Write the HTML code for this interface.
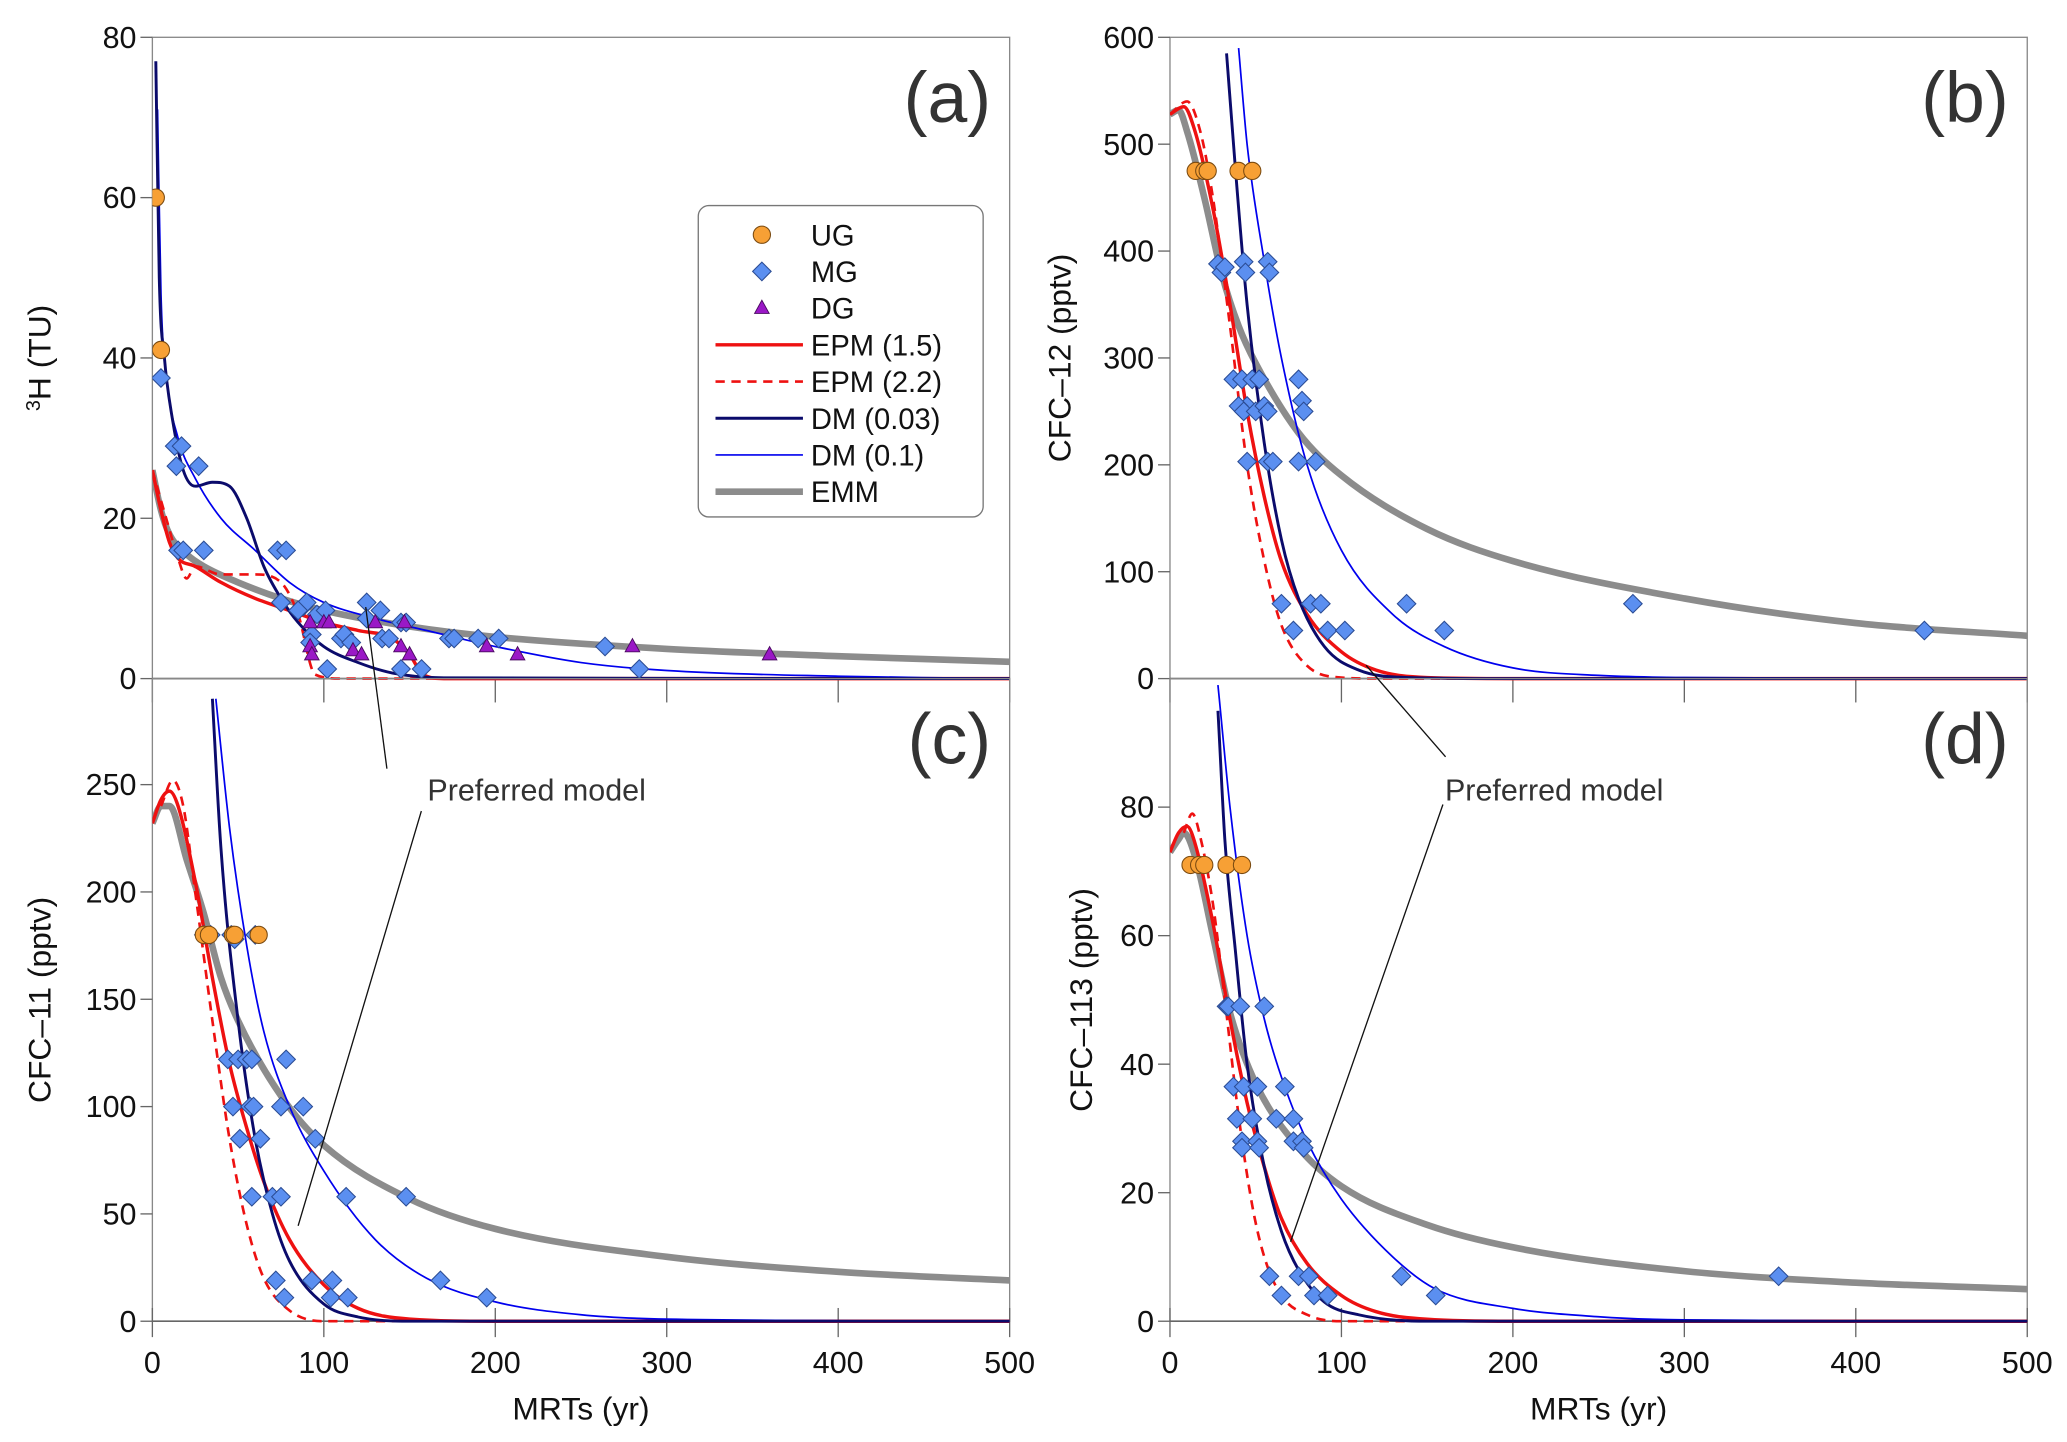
<!DOCTYPE html>
<html><head><meta charset="utf-8"><style>
html,body{margin:0;padding:0;background:#fff;}
svg{display:block;font-family:"Liberation Sans",Arial,sans-serif;}
</style></head><body>
<svg id="fig" width="2067" height="1442" viewBox="0 0 1560 1088" xmlns="http://www.w3.org/2000/svg">
<defs>
<clipPath id="clipA"><rect x="115" y="28" width="647" height="486"/></clipPath>
<clipPath id="clipB"><rect x="883" y="28" width="647" height="486"/></clipPath>
<clipPath id="clipC"><rect x="115" y="512" width="647" height="487"/></clipPath>
<clipPath id="clipD"><rect x="883" y="512" width="647" height="487"/></clipPath>
</defs>
<g id="root"></g>
</svg>
<script>
// ---------- data ----------
const xTicks=[0,100,200,300,400,500];
const ticksA=[0,20,40,60,80], ticksB=[0,100,200,300,400,500,600], ticksC=[0,50,100,150,200,250], ticksD=[0,20,40,60,80];
// Panel a (3H)
const aEMMx=[0,5,10,20,30,50,75,100,150,200,300,400,500];
const aEMMy=[26,21,18,15.5,14,12,10,8.5,6.5,5.2,3.7,2.8,2.1];
const aEPM15x=[0,5,10,15,25,40,60,80,100,120,140,150,158,170,500];
const aEPM15y=[26,21,17,15,14,12,10,8.5,7,6,5,3,0.5,0,0];
const aEPM22x=[0,8,15,20,25,40,60,75,85,95,110,500];
const aEPM22y=[26,20,15,12.5,14,13,13,12,8,0.5,0,0];
const aDM03x=[2,4,7,12,18,25,35,45,55,65,75,85,100,120,140,170,500];
const aDM03y=[77,50,40,32,26,24,24.5,24,20,14,10,7,4,2,0.7,0.1,0];
const aDM1x=[3,5,8,15,25,40,60,80,100,130,160,200,250,300,400,500];
const aDM1y=[71,48,38,30,25,20,16,12,9.5,7.5,6,4,2,1,0.3,0];
const aUGx=[2,5], aUGy=[60,41];
const aMGx=[5,13,17,14,27,15,18,30,73,78,75,88,90,85,96,101,125,133,125,145,93,92,110,112,116,134,138,148,173,176,190,202,264,284,102,145,157];
const aMGy=[37.5,29,29,26.5,26.5,16,16,16,16,16,9.5,9,9.5,8.5,8,8.5,9.5,8.5,7.5,7,5.5,4.5,5,5.5,4.5,5,5,7,5,5,5,5,4,1.2,1.2,1.2,1.2];
const aDGx=[92,100,103,130,147,92,93,117,122,145,150,195,213,280,360];
const aDGy=[7,7,7,7,7,4,3,3.5,3,4,3,4,3,4,3];
// Panel b (CFC-12)
const bEMMx=[0,5,10,20,30,40,50,75,100,150,200,300,400,500];
const bEMMy=[528,532,512,450,380,330,295,230,190,140,110,75,52,40];
const bEPM15x=[0,8,15,25,35,45,55,65,80,100,120,150,200,500];
const bEPM15y=[528,535,510,440,350,250,170,110,60,25,8,1,0,0];
const bEPM22x=[0,10,18,25,35,45,55,65,80,100,120,500];
const bEPM22y=[528,540,510,450,330,200,110,50,12,1,0,0];
const bDM03x=[33,38,45,55,65,75,90,110,140,200,500];
const bDM03y=[585,480,350,220,130,75,30,8,1,0,0];
const bDM1x=[40,45,55,65,80,100,130,160,200,250,300,500];
const bDM1y=[590,500,390,300,200,120,60,30,10,3,1,0];
const bUGx=[15,20,22,40,48], bUGy=[475,475,475,475,475];
const bMGx=[28,30,32,43,44,57,58,37,42,45,40,43,50,48,52,55,57,75,77,78,45,57,60,75,85,65,82,88,72,92,102,138,160,270,440];
const bMGy=[388,380,385,390,380,390,380,280,280,255,255,250,250,280,280,255,250,280,260,250,203,203,203,203,203,70,70,70,45,45,45,70,45,70,45];
// Panel c (CFC-11)
const cEMMx=[0,5,10,20,30,40,50,75,100,150,200,300,400,500];
const cEMMy=[232,240,240,215,190,160,140,105,82,57,43,30,23,19];
const cEPM15x=[0,5,10,15,25,35,45,55,65,80,100,120,150,200,500];
const cEPM15y=[232,243,247,240,205,160,120,90,65,38,17,6,1,0,0];
const cEPM22x=[5,12,18,25,35,45,55,65,80,100,500];
const cEPM22y=[240,252,240,200,140,85,45,20,5,0,0];
const cDM03x=[35,40,50,60,70,80,100,120,150,500];
const cDM03y=[290,220,140,85,50,28,8,2,0,0];
const cDM1x=[37,45,55,65,80,100,130,160,200,250,300,500];
const cDM1y=[290,230,175,135,100,70,38,20,9,3,1,0];
const cUGx=[30,33,47,48,62], cUGy=[180,180,180,180,180];
const cMGx=[30,34,46,48,60,44,50,55,58,78,47,57,59,75,88,51,63,95,58,70,75,113,148,72,93,105,168,77,104,114,195];
const cMGy=[180,180,180,178,180,122,122,122,122,122,100,100,100,100,100,85,85,85,58,58,58,58,58,19,19,19,19,11,11,11,11];
// Panel d (CFC-113)
const dEMMx=[0,5,8,15,25,35,50,75,100,150,200,300,400,500];
const dEMMy=[73,75,76,72,60,48,37,27,21,15,11.5,7.8,6,5];
const dEPM15x=[0,5,10,15,25,35,45,55,65,80,100,120,150,200,500];
const dEPM15y=[73,76,77,74,62,47,34,24,16,9,4,1.5,0.3,0,0];
const dEPM22x=[8,13,18,25,32,40,48,55,65,80,100,500];
const dEPM22y=[76,79,75,65,50,32,18,10,4,1,0,0];
const dDM03x=[28,32,38,45,55,65,75,90,110,150,500];
const dDM03y=[95,75,58,40,24,14,8,3,1,0,0];
const dDM1x=[28,35,45,55,65,80,100,130,155,200,250,300,500];
const dDM1y=[99,80,60,47,38,28,19,10,5,2,0.7,0.2,0];
const dUGx=[12,17,20,33,42], dUGy=[71,71,71,71,71];
const dMGx=[33,34,41,55,37,43,51,67,39,48,62,72,42,51,72,77,42,52,78,58,75,81,135,355,65,84,92,155];
const dMGy=[49,49,49,49,36.5,36.5,36.5,36.5,31.5,31.5,31.5,31.5,28,28,28,28,27,27,27,7,7,7,7,7,4,4,4,4];

// ---------- drawing ----------
const NS='http://www.w3.org/2000/svg';
const root=document.getElementById('root');
function mk(tag,attrs,parent){const e=document.createElementNS(NS,tag);for(const k in attrs)e.setAttribute(k,attrs[k]);(parent||root).appendChild(e);return e;}
function pathFrom(p){ // monotone cubic (Fritsch-Carlson) in pixel space
  const n=p.length;
  if(n<3){return 'M'+p.map(q=>q[0].toFixed(1)+','+q[1].toFixed(1)).join(' L');}
  const dx=[],s=[];
  for(let i=0;i<n-1;i++){dx.push(p[i+1][0]-p[i][0]);s.push((p[i+1][1]-p[i][1])/(dx[i]||1e-6));}
  const m=[s[0]];
  for(let i=1;i<n-1;i++){m.push(s[i-1]*s[i]<=0?0:(s[i-1]+s[i])/2);}
  m.push(s[n-2]);
  for(let i=0;i<n-1;i++){
    if(s[i]===0){m[i]=0;m[i+1]=0;continue;}
    const a=m[i]/s[i],b=m[i+1]/s[i],h=a*a+b*b;
    if(h>9){const t=3/Math.sqrt(h);m[i]=t*a*s[i];m[i+1]=t*b*s[i];}
  }
  let d='M'+p[0][0].toFixed(1)+','+p[0][1].toFixed(1);
  for(let i=0;i<n-1;i++){
    const h=dx[i]/3;
    d+=' C'+(p[i][0]+h).toFixed(1)+','+(p[i][1]+m[i]*h).toFixed(1)+' '+(p[i+1][0]-h).toFixed(1)+','+(p[i+1][1]-m[i+1]*h).toFixed(1)+' '+p[i+1][0].toFixed(1)+','+p[i+1][1].toFixed(1);
  }
  return d;
}
const styles={
  emm:{stroke:'#8c8c8c','stroke-width':5,fill:'none'},
  epm15:{stroke:'#ee1111','stroke-width':2.6,fill:'none'},
  epm22:{stroke:'#ee1111','stroke-width':2,fill:'none','stroke-dasharray':'7,5'},
  dm03:{stroke:'#0b0b6b','stroke-width':2.2,fill:'none'},
  dm1:{stroke:'#0000ee','stroke-width':1.3,fill:'none'}
};
function panel(id,x0,x1,yBot,yTop,ymax,ticks,ylabel,letter,series,ug,mg,dg,showX,labelX){
  const g=mk('g',{});
  
  
  const X=v=>x0+(x1-x0)*v/500, Y=v=>yBot-(yBot-yTop)*v/ymax;
  const fr=mk('rect',{x:x0,y:yTop,width:x1-x0,height:yBot-yTop,fill:'none',stroke:'#888','stroke-width':1},g);
  
  
  const zl=mk('line',{x1:x0,x2:x1,y1:Y(0),y2:Y(0),stroke:'#666','stroke-width':1.2},g);
  
  
  ticks.forEach(t=>{
    mk('line',{x1:x0-9,x2:x0,y1:Y(t),y2:Y(t),stroke:'#666','stroke-width':1},g);
    const tl=mk('text',{x:x0-12,y:Y(t)+8,'text-anchor':'end','font-size':23,fill:'#111'},g);
    tl.textContent=t;
    
    
  });
  xTicks.forEach(t=>{
    mk('line',{x1:X(t),x2:X(t),y1:Y(0)-(showX?10:0),y2:Y(0)+(showX?12:18),stroke:'#666','stroke-width':1},g);
    if(showX){
      const xl=mk('text',{x:X(t),y:1036,'text-anchor':'middle','font-size':23,fill:'#111'},g);
      xl.textContent=t;
      
      
    }
  });
  const yl=mk('text',{x:0,y:0,'text-anchor':'middle','font-size':24,fill:'#111',transform:'translate('+labelX+','+((yBot+yTop)/2)+') rotate(-90)'},g);
  yl.innerHTML=ylabel;
  
  
  if(showX){
    const xt=mk('text',{x:(x0+x1)/2,y:1071,'text-anchor':'middle','font-size':24,fill:'#111'},g);
    xt.textContent='MRTs (yr)';
    
    
  }
  const lt=mk('text',{x:x1-14,y:yTop+64,'text-anchor':'end','font-size':54,fill:'#333'},g);
  lt.textContent='('+id+')';
  
  
  const cg=mk('g',{'clip-path':'url(#clip'+id.toUpperCase()+')'},g);
  series.forEach(s=>{
    const pts=s.x.map((v,i)=>[X(v),Y(s.y[i])]);
    const p=mk('path',Object.assign({d:pathFrom(pts)},styles[s.k]),cg);
    
    
  });
  mg[0].forEach((v,i)=>{
    const cx=X(v),cy=Y(mg[1][i]),r=7;
    const d=mk('path',{d:'M'+cx+','+(cy-r)+' L'+(cx+r)+','+cy+' L'+cx+','+(cy+r)+' L'+(cx-r)+','+cy+' Z',fill:'#5b8ff0',stroke:'#2b4c94','stroke-width':0.8},cg);
    
    
  });
  if(dg) dg[0].forEach((v,i)=>{
    const cx=X(v),cy=Y(dg[1][i]);
    const t=mk('path',{d:'M'+cx+','+(cy-6)+' L'+(cx+5.5)+','+(cy+4)+' L'+(cx-5.5)+','+(cy+4)+' Z',fill:'#9a18c6',stroke:'#4a0a60','stroke-width':0.7},cg);
    
    
  });
  ug[0].forEach((v,i)=>{
    const c=mk('circle',{cx:X(v),cy:Y(ug[1][i]),r:6.5,fill:'#f7a035',stroke:'#7a4a10','stroke-width':0.8},cg);
    
    
  });
}
function S(k,x,y){return {k:k,x:x,y:y};}
panel('a',115,762,512,28,80,ticksA,'<tspan font-size="15" dy="-8">3</tspan><tspan dy="8">H (TU)</tspan>','a',
  [S('emm',aEMMx,aEMMy),S('epm22',aEPM22x,aEPM22y),S('epm15',aEPM15x,aEPM15y),S('dm1',aDM1x,aDM1y),S('dm03',aDM03x,aDM03y)],
  [aUGx,aUGy],[aMGx,aMGy],[aDGx,aDGy],false,38);
panel('b',883,1530,512,28,600,ticksB,'CFC–12 (pptv)','b',
  [S('emm',bEMMx,bEMMy),S('epm22',bEPM22x,bEPM22y),S('epm15',bEPM15x,bEPM15y),S('dm1',bDM1x,bDM1y),S('dm03',bDM03x,bDM03y)],
  [bUGx,bUGy],[bMGx,bMGy],null,false,808);
panel('c',115,762,997,512,299.4,ticksC,'CFC–11 (pptv)','c',
  [S('emm',cEMMx,cEMMy),S('epm22',cEPM22x,cEPM22y),S('epm15',cEPM15x,cEPM15y),S('dm1',cDM1x,cDM1y),S('dm03',cDM03x,cDM03y)],
  [cUGx,cUGy],[cMGx,cMGy],null,true,38);
panel('d',883,1530,997,512,100,ticksD,'CFC–113 (pptv)','d',
  [S('emm',dEMMx,dEMMy),S('epm22',dEPM22x,dEPM22y),S('epm15',dEPM15x,dEPM15y),S('dm1',dDM1x,dDM1y),S('dm03',dDM03x,dDM03y)],
  [dUGx,dUGy],[dMGx,dMGy],null,true,824);

// annotations
[[405,[[292,580,276,458],[318,612,225,925]]],[1173,[[1091,571,1031,502],[1089,607,974,937]]]].forEach((a,j)=>{
  const g=mk('g',{});
  
  
  a[1].forEach(l=>mk('line',{x1:l[0],y1:l[1],x2:l[2],y2:l[3],stroke:'#111','stroke-width':1},g));
  const t=mk('text',{x:a[0],y:604,'text-anchor':'middle','font-size':23,fill:'#333'},g);
  t.textContent='Preferred model';
});

// legend
const lg=mk('g',{});


mk('rect',{x:527,y:155,width:215,height:235,rx:8,fill:'#fff',stroke:'#777','stroke-width':1},lg);
const legNames=['UG','MG','DG','EPM (1.5)','EPM (2.2)','DM (0.03)','DM (0.1)','EMM'];
const legKeys=['ug','mg','dg','epm15','epm22','dm03','dm1','emm'];
legNames.forEach((n,i)=>{
  const y=177+i*27.7;
  const k=legKeys[i];
  const e=mk('g',{},lg);
  
  
  if(k==='ug') mk('circle',{cx:575,cy:y,r:6.5,fill:'#f7a035',stroke:'#7a4a10','stroke-width':0.8},e);
  else if(k==='mg') mk('path',{d:'M575,'+(y-7)+' L582,'+y+' L575,'+(y+7)+' L568,'+y+' Z',fill:'#5b8ff0',stroke:'#2b4c94','stroke-width':0.8},e);
  else if(k==='dg') mk('path',{d:'M575,'+(y-6)+' L580.5,'+(y+4)+' L569.5,'+(y+4)+' Z',fill:'#9a18c6',stroke:'#4a0a60','stroke-width':0.7},e);
  else mk('line',Object.assign({x1:540,x2:606,y1:y,y2:y},styles[k]),e);
  const t=mk('text',{x:612,y:y+8,'font-size':22,fill:'#111'},e);
  t.textContent=n;
});
</script>
</body></html>
